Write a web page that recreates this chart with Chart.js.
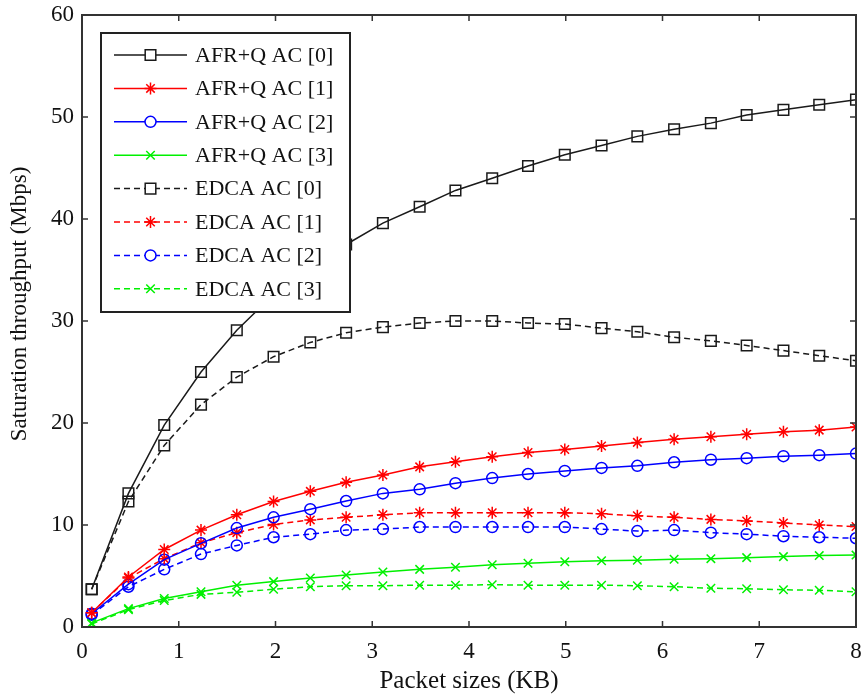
<!DOCTYPE html>
<html>
<head>
<meta charset="utf-8">
<title>Saturation throughput vs packet size</title>
<script src="https://cdn.jsdelivr.net/npm/chart.js@4.4.0/dist/chart.umd.min.js"></script>
<style>
    html, body { margin: 0; padding: 0; background: #ffffff; }
    #wrap { width: 865px; height: 696px; }
</style>
</head>
<body>
<div id="wrap"><canvas id="myChart" width="865" height="696"></canvas></div>
<script>
// packet sizes (KB) on the x axis
const packetSizes = [0.10, 0.48, 0.85, 1.23, 1.60, 1.98, 2.36, 2.73, 3.11, 3.49, 3.86,
                     4.24, 4.61, 4.99, 5.37, 5.74, 6.12, 6.50, 6.87, 7.25, 7.62, 8.00];

// saturation throughput (Mbps)
const afrAc0  = [3.7, 13.1, 19.8, 25.0, 29.1, 32.6, 35.2, 37.5, 39.6, 41.2, 42.8,
                 44.0, 45.2, 46.3, 47.2, 48.1, 48.8, 49.4, 50.2, 50.7, 51.2, 51.7];
const afrAc1  = [1.4, 4.9, 7.6, 9.5, 11.0, 12.3, 13.3, 14.2, 14.9, 15.7, 16.2,
                 16.7, 17.1, 17.4, 17.75, 18.1, 18.4, 18.65, 18.9, 19.15, 19.3, 19.6];
const afrAc2  = [1.3, 4.2, 6.6, 8.2, 9.7, 10.75, 11.55, 12.35, 13.1, 13.5, 14.1,
                 14.6, 15.0, 15.3, 15.6, 15.8, 16.15, 16.4, 16.55, 16.75, 16.85, 17.0];
const afrAc3  = [0.4, 1.8, 2.8, 3.45, 4.1, 4.45, 4.8, 5.1, 5.4, 5.65, 5.85,
                 6.1, 6.25, 6.4, 6.5, 6.55, 6.65, 6.7, 6.8, 6.9, 7.0, 7.05];
const edcaAc0 = [3.7, 12.3, 17.8, 21.8, 24.5, 26.5, 27.9, 28.85, 29.4, 29.8, 30.0,
                 30.0, 29.8, 29.7, 29.3, 28.95, 28.4, 28.05, 27.6, 27.1, 26.6, 26.1];
const edcaAc1 = [1.4, 4.8, 6.7, 8.25, 9.25, 10.05, 10.5, 10.75, 11.0, 11.2, 11.2,
                 11.2, 11.2, 11.2, 11.1, 10.9, 10.75, 10.55, 10.4, 10.2, 10.0, 9.85];
const edcaAc2 = [1.2, 3.95, 5.65, 7.15, 8.0, 8.8, 9.1, 9.5, 9.6, 9.8, 9.8,
                 9.8, 9.8, 9.8, 9.6, 9.4, 9.5, 9.25, 9.1, 8.9, 8.8, 8.7];
const edcaAc3 = [0.3, 1.7, 2.6, 3.2, 3.4, 3.7, 3.95, 4.05, 4.05, 4.1, 4.1,
                 4.15, 4.1, 4.1, 4.1, 4.05, 3.95, 3.8, 3.75, 3.65, 3.6, 3.45];

const seriesNames = ['AFR+Q AC [0]', 'AFR+Q AC [1]', 'AFR+Q AC [2]', 'AFR+Q AC [3]',
                     'EDCA AC [0]', 'EDCA AC [1]', 'EDCA AC [2]', 'EDCA AC [3]'];
const xTicks = [0, 1, 2, 3, 4, 5, 6, 7, 8];
const yTicks = [0, 10, 20, 30, 40, 50, 60];
const yTitle = 'Saturation throughput (Mbps)';

const FONT = 'Liberation Serif, Times New Roman, serif';

function toPoints(values) {
    return values.map((v, i) => ({x: packetSizes[i], y: v}));
}

function makeDataset(label, values, color, marker, radius, dashed) {
    return {
        label: label,
        data: toPoints(values),
        borderColor: color,
        backgroundColor: 'rgba(0,0,0,0)',
        borderWidth: 1.5,
        borderDash: dashed ? [6, 4] : [],
        pointStyle: marker,
        pointRadius: radius,
        pointBorderColor: color,
        pointBackgroundColor: 'rgba(0,0,0,0)',
        pointBorderWidth: 1.5,
        showLine: true,
        tension: 0,
        fill: false
    };
}

const datasets = [
    makeDataset(seriesNames[0], afrAc0,  '#1a1a1a', 'rect',     7.5, false),
    makeDataset(seriesNames[1], afrAc1,  '#ff0000', 'star',     6,   false),
    makeDataset(seriesNames[2], afrAc2,  '#0000ff', 'circle',   5.5, false),
    makeDataset(seriesNames[3], afrAc3,  '#00f000', 'crossRot', 6,   false),
    makeDataset(seriesNames[4], edcaAc0, '#1a1a1a', 'rect',     7.5, true),
    makeDataset(seriesNames[5], edcaAc1, '#ff0000', 'star',     6,   true),
    makeDataset(seriesNames[6], edcaAc2, '#0000ff', 'circle',   5.5, true),
    makeDataset(seriesNames[7], edcaAc3, '#00f000', 'crossRot', 6,   true)
];

// frame around the plot with inward tick marks, matlab style
const framePlugin = {
    id: 'frame',
    afterDraw(chart) {
        const ctx = chart.ctx;
        const a = chart.chartArea;
        const xs = chart.scales.x;
        const ys = chart.scales.y;
        const len = 6;
        ctx.save();
        ctx.strokeStyle = '#333';
        ctx.lineWidth = 1.5;
        ctx.beginPath();
        xTicks.forEach(function(t) {
            const px = xs.getPixelForValue(t);
            ctx.moveTo(px, a.bottom); ctx.lineTo(px, a.bottom - len);
            ctx.moveTo(px, a.top);    ctx.lineTo(px, a.top + len);
        });
        yTicks.forEach(function(t) {
            const py = ys.getPixelForValue(t);
            ctx.moveTo(a.left, py);  ctx.lineTo(a.left + len, py);
            ctx.moveTo(a.right, py); ctx.lineTo(a.right - len, py);
        });
        ctx.stroke();
        ctx.lineWidth = 2;
        ctx.strokeRect(a.left, a.top, a.right - a.left, a.bottom - a.top);

        // y axis title, sits a little above the middle in the original
        ctx.fillStyle = '#111';
        ctx.font = '23px ' + FONT;
        ctx.textAlign = 'center';
        ctx.textBaseline = 'middle';
        ctx.translate(20, 304);
        ctx.rotate(-Math.PI / 2);
        ctx.fillText(yTitle, 0, 0);
        ctx.restore();
    }
};

// legend box drawn inside the plot, upper left
const boxLegendPlugin = {
    id: 'boxLegend',
    afterDatasetsDraw(chart) {
        const ctx = chart.ctx;
        const a = chart.chartArea;
        const left = a.left + 19, top = a.top + 18;
        const width = 249, height = 279;
        const rowH = 33.4;
        ctx.save();
        ctx.fillStyle = '#ffffff';
        ctx.fillRect(left, top, width, height);
        ctx.strokeStyle = '#222';
        ctx.lineWidth = 2;
        ctx.strokeRect(left, top, width, height);
        ctx.font = '22px ' + FONT;
        ctx.textBaseline = 'middle';
        chart.data.datasets.forEach(function(ds, i) {
            const cy = top + 22 + i * rowH;
            const x0 = left + 13, x1 = left + 86;
            ctx.strokeStyle = ds.borderColor;
            ctx.lineWidth = ds.borderWidth;
            ctx.setLineDash(ds.borderDash);
            ctx.beginPath();
            ctx.moveTo(x0, cy);
            ctx.lineTo(x1, cy);
            ctx.stroke();
            ctx.setLineDash([]);
            // clear the marker inside so it looks hollow
            ctx.fillStyle = '#ffffff';
            ctx.lineWidth = ds.pointBorderWidth;
            Chart.helpers.drawPoint(ctx, {
                pointStyle: ds.pointStyle,
                radius: ds.pointRadius,
                rotation: 0,
                borderWidth: ds.pointBorderWidth
            }, (x0 + x1) / 2, cy);
            ctx.fillStyle = '#111';
            ctx.fillText(ds.label, left + 94, cy + 1);
        });
        ctx.restore();
    }
};

const config = {
    type: 'scatter',
    data: {datasets: datasets},
    options: {
        responsive: false,
        animation: false,
        layout: {padding: {left: 5, top: 15, right: 8, bottom: 0}},
        plugins: {
            legend: {display: false},
            tooltip: {enabled: false}
        },
        scales: {
            x: {
                type: 'linear',
                min: 0,
                max: 8,
                afterBuildTicks: function(scale) {
                    scale.ticks = xTicks.map(v => ({value: v}));
                },
                afterFit: function(scale) {
                    // fixed strip under the plot, no extra room for end labels
                    scale.height = 69;
                    scale.paddingLeft = 0;
                    scale.paddingRight = 0;
                },
                grid: {display: false, drawTicks: false},
                border: {display: false},
                ticks: {color: '#111', padding: 11, font: {family: FONT, size: 23}},
                title: {
                    display: true,
                    text: 'Packet sizes (KB)',
                    color: '#111',
                    padding: {top: 0, bottom: 0},
                    font: {family: FONT, size: 25}
                }
            },
            y: {
                type: 'linear',
                min: 0,
                max: 60,
                afterBuildTicks: function(scale) {
                    scale.ticks = yTicks.map(v => ({value: v}));
                },
                afterFit: function(scale) {
                    scale.width = 77;
                    scale.paddingTop = 0;
                    scale.paddingBottom = 0;
                },
                grid: {display: false, drawTicks: false},
                border: {display: false},
                ticks: {color: '#111', padding: 8, font: {family: FONT, size: 23}},
                title: {display: false}
            }
        }
    },
    plugins: [boxLegendPlugin, framePlugin]
};

const myChart = new Chart(document.getElementById('myChart'), config);
</script>
</body>
</html>
